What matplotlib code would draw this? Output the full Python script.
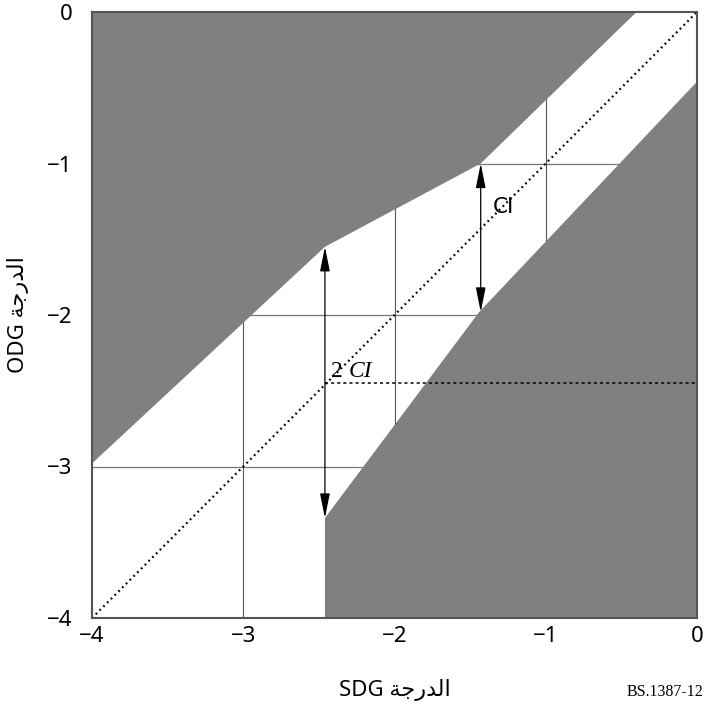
import matplotlib
matplotlib.use("Agg")
import matplotlib.pyplot as plt

plt.rcParams['font.family'] = ['Noto Sans', 'DejaVu Sans']

# Data
ticks = [-4, -3, -2, -1, 0]
tick_labels = ['\u22124', '\u22123', '\u22122', '\u22121', '0']
grid_vals = [-3, -2, -1]
upper_x = [-4.0, -2.46, -1.43, -0.40]
upper_y = [-2.98, -1.55, -1.00, 0.0]
lower_x = [-2.46, -2.46, -1.44, 0.0]
lower_y = [-4.0, -3.34, -1.98, -0.46]
ci2_x = -2.46
ci2_y = [-1.55, -3.34]
ci_x = -1.43
ci_y = [-1.00, -1.98]
ci2_level = -2.45
diag = [-4, 0]

arabic = "\uFE94\uFE9F\uFEAD\uFEAA\uFEDF\uFE8D"  # visual form of "الدرجة"

fig = plt.figure(figsize=(7.05, 7.10), dpi=100)
ax = fig.add_axes([92/705, 1-618/710, 605/705, 606/710])
ax.set_xlim(-4, 0)
ax.set_ylim(-4, 0)

# grid lines (behind shaded regions)
for g in grid_vals:
    ax.axhline(g, color='#777777', lw=0.9, zorder=1)
    ax.axvline(g, color='#555555', lw=0.8, zorder=1)

# shaded regions
ax.fill(upper_x + [-4.0], upper_y + [0.0], color='#808080', lw=0, zorder=2)
ax.fill(lower_x + [0.0], lower_y + [-4.0], color='#808080', lw=0, zorder=2)

# diagonal dotted line
ax.plot(diag, diag, color='black', lw=1.6, linestyle=(0, (0.8, 1.6)), zorder=3)
# horizontal dotted line at 2 CI
ax.plot([ci2_x, 0], [ci2_level, ci2_level], color='black', lw=1.1,
        linestyle=(0, (2, 2)), zorder=3)

# arrows
astyle = "<|-|>,head_length=1.5,head_width=0.3"
for x, (y0, y1) in [(ci2_x, ci2_y), (ci_x, ci_y)]:
    ax.annotate('', xy=(x, y0), xytext=(x, y1),
                arrowprops=dict(arrowstyle=astyle, color='black', lw=0.9,
                                shrinkA=0, shrinkB=0, mutation_scale=10),
                zorder=4)

ax.text(-2.42, -2.37, '2', fontsize=17, family='Liberation Serif',
        ha='left', va='center', zorder=5)
ax.text(-2.30, -2.37, 'CI', fontsize=17, family='Liberation Serif',
        style='italic', ha='left', va='center', zorder=5)
ax.text(-1.35, -1.285, 'CI', fontsize=15.5, fontname='DejaVu Sans',
        ha='left', va='center', zorder=5)

ax.set_xticks(ticks)
ax.set_xticklabels(tick_labels, fontsize=16)
ax.set_yticks(ticks)
ax.set_yticklabels(tick_labels, fontsize=16)
ax.tick_params(axis='x', length=0, pad=6)
ax.tick_params(axis='y', length=0, pad=14)
for s in ax.spines.values():
    s.set_color('#555555')
    s.set_linewidth(1.5)
    s.set_zorder(6)

fig.text(395/705, 1-690/710, 'SDG ' + arabic, fontsize=16, ha='center', va='center')
fig.text(18/705, 1-315/710, 'ODG ' + arabic, fontsize=16, ha='center', va='center',
         rotation=90)
fig.text(703/705, 1-692/710, 'BS.1387-12', fontsize=11.5, family='Liberation Serif',
         ha='right', va='center')

fig.savefig('out.png', dpi=100)
